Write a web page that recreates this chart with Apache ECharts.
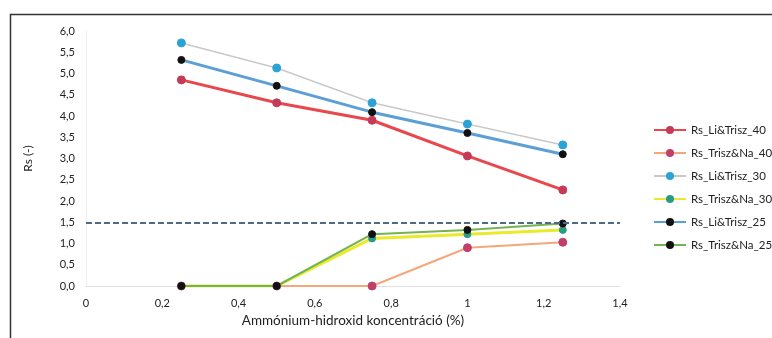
<!DOCTYPE html>
<html>
<head>
<meta charset="utf-8">
<script src="https://cdn.jsdelivr.net/npm/echarts@6/dist/echarts.min.js"></script>
<style>
  html, body { margin: 0; padding: 0; background: #fff; }
  #chart { width: 772px; height: 338px; }
</style>
</head>
<body>
<div id="chart"></div>
<script>
// koncentráció (%)
const xValues = [0.25, 0.5, 0.75, 1, 1.25]
const liTrisz40 = [4.85, 4.31, 3.9, 3.06, 2.26]
const triszNa40 = [0, 0, 0, 0.9, 1.03]
const liTrisz30 = [5.72, 5.13, 4.31, 3.81, 3.32]
const triszNa30 = [0, 0, 1.12, 1.22, 1.32]
const liTrisz25 = [5.32, 4.71, 4.09, 3.6, 3.1]
const triszNa25 = [0, 0, 1.22, 1.32, 1.47]
const limitValue = 1.5

const pairs = (ys) => xValues.map((x, i) => [x, ys[i]])
const comma = (v, d) => (d ? v.toFixed(d) : String(v)).replace('.', ',')

const myChart = echarts.init(document.getElementById('chart'))

const mkSeries = (name, data, lineColor, width, markColor, size) => ({
  name,
  type: 'line',
  data: pairs(data),
  symbol: 'circle',
  symbolSize: size,
  lineStyle: { color: lineColor, width: width },
  itemStyle: { color: markColor, borderColor: markColor },
  emphasis: { disabled: true },
  z: 3
})

const seriesList = [
  mkSeries('Rs_Li&Trisz_40', liTrisz40, '#e8474c', 3, '#c53a58', 8),
  mkSeries('Rs_Trisz&Na_40', triszNa40, '#f5a67a', 2, '#c0406a', 8),
  mkSeries('Rs_Li&Trisz_30', liTrisz30, '#c9c9c9', 1.5, '#2aa3d6', 8),
  mkSeries('Rs_Trisz&Na_30', triszNa30, '#eaea2a', 3, '#2a9a8a', 7),
  mkSeries('Rs_Li&Trisz_25', liTrisz25, '#5b9fd6', 3, '#111111', 7),
  mkSeries('Rs_Trisz&Na_25', triszNa25, '#72b454', 2, '#111111', 7)
]

// határérték 1,5
seriesList[0].markLine = {
  silent: true,
  symbol: 'none',
  label: { show: false },
  lineStyle: { color: '#4d6a86', type: [6, 3], width: 2 },
  data: [{ yAxis: limitValue }]
}

const option = {
  backgroundColor: '#fff',
  textStyle: { fontFamily: 'Lato, sans-serif' },
  animation: false,
  graphic: [{
    type: 'rect',
    left: 8, top: 12,
    shape: { width: 800, height: 400 },
    style: { fill: 'none', stroke: '#333', lineWidth: 1.5 },
    silent: true
  }],
  grid: { left: 86, right: 152, top: 31, bottom: 52 },
  legend: {
    orient: 'vertical',
    left: 648,
    top: 119,
    itemGap: 11,
    itemWidth: 32,
    itemHeight: 10,
    textStyle: { fontSize: 11.5, color: '#222' },
    data: seriesList.map(s => s.name)
  },
  xAxis: {
    type: 'value',
    min: 0, max: 1.4, interval: 0.2,
    name: 'Ammónium-hidroxid koncentráció (%)',
    nameLocation: 'middle',
    nameGap: 27,
    nameTextStyle: { fontSize: 13.5, color: '#222' },
    axisLine: { lineStyle: { color: '#e0e0e0' } },
    axisTick: { show: false },
    splitLine: { show: false },
    axisLabel: { fontSize: 11, color: '#222', margin: 12, formatter: v => comma(Math.round(v * 10) / 10) }
  },
  yAxis: {
    type: 'value',
    min: 0, max: 6, interval: 0.5,
    name: 'Rs (-)',
    nameLocation: 'middle',
    nameGap: 52,
    nameTextStyle: { fontSize: 12, color: '#222' },
    axisLine: { show: true, lineStyle: { color: '#eeeeee' } },
    axisTick: { show: false },
    splitLine: { show: false },
    axisLabel: { fontSize: 11, color: '#222', margin: 11, formatter: v => comma(v, 1) }
  },
  series: seriesList
}

myChart.setOption(option)
window.addEventListener('resize', myChart.resize)
</script>
</body>
</html>
